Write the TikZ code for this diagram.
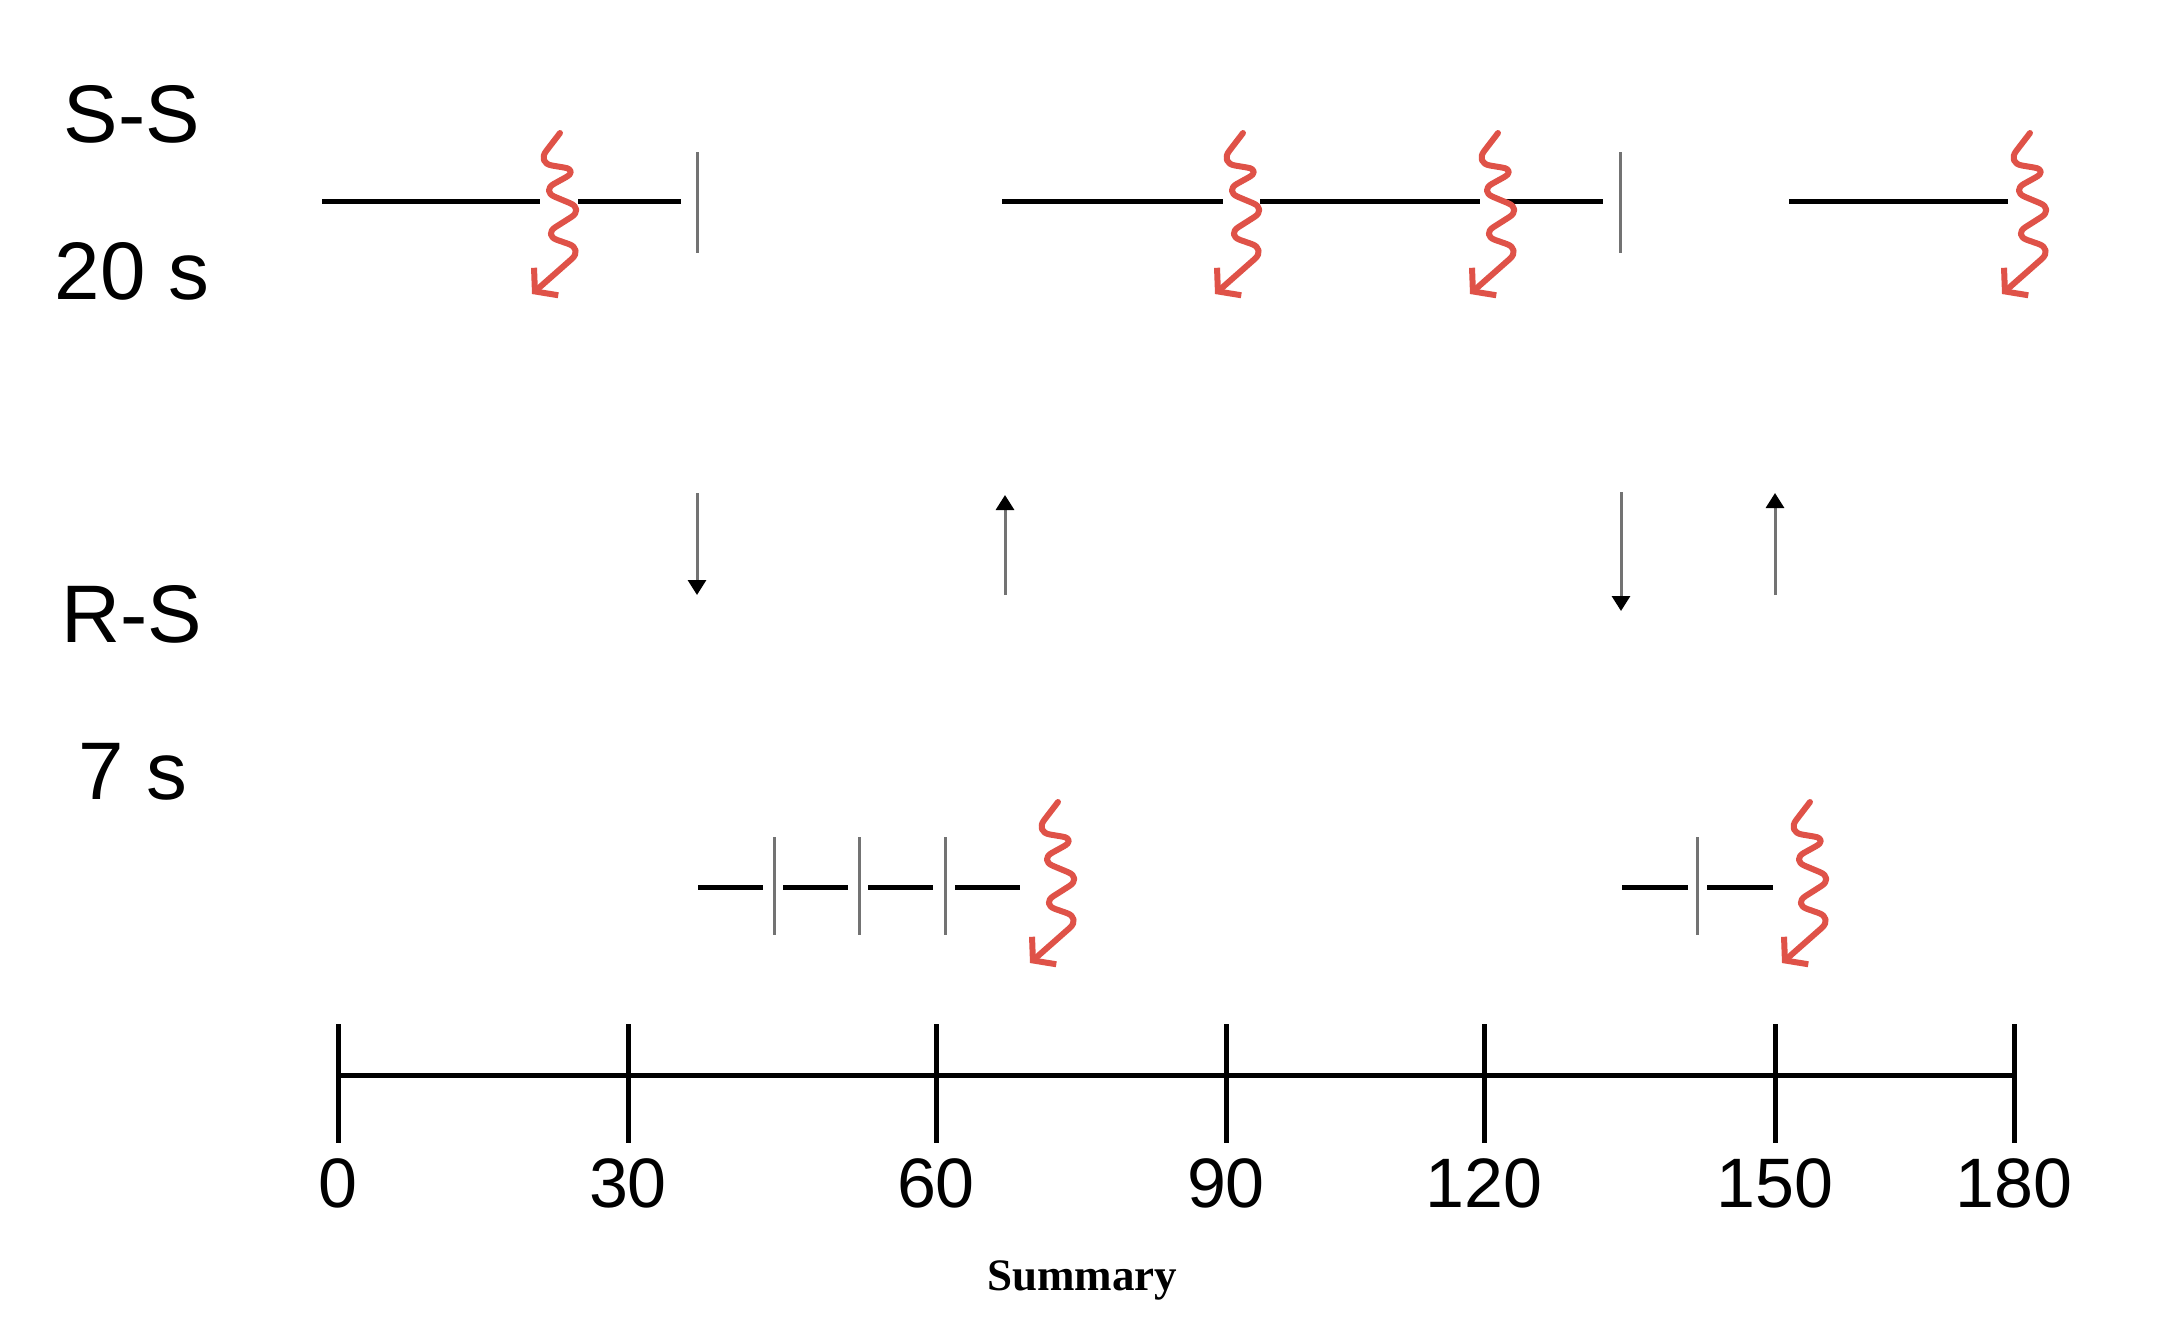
\documentclass[tikz,border=0pt]{standalone}
\usepackage{fontspec}
\setmainfont{Liberation Sans}
\newfontfamily\summaryfont{Liberation Serif}
\usetikzlibrary{arrows.meta}
\definecolor{zapred}{RGB}{223,82,72}
\definecolor{tickgray}{RGB}{115,115,115}
\begin{document}
\begin{tikzpicture}[x=0.3pt,y=-0.3pt,
  seg/.style={line width=1.5pt,black},
  sepline/.style={line width=0.9pt,tickgray},
  flow/.style={line width=0.9pt,tickgray,-{Triangle[length=4.5pt,width=5.4pt,color=black]}},
  zapline/.style={zapred,line width=1.8pt,rounded corners=4.5pt,line cap=round,line join=round,-{Straight Barb[length=4.5pt,width=11pt]}},
  axisline/.style={line width=1.5pt,black},
  rowlabel/.style={font=\fontsize{24.5}{28}\selectfont,anchor=base,inner sep=0pt},
  ticklabel/.style={font=\fontsize{21}{25}\selectfont,anchor=base,inner sep=0pt},
  pics/zap/.style={code={\draw[zapline] (0,0) -- (-23,30) -- (19,37) -- (-19,58) -- (24,76) -- (-17,102) -- (23,116) -- (-28,161);}}
]
\useasboundingbox (0,0) rectangle (2178,1335);

% row labels
\node[rowlabel] (ss) at (132,142) {S-S};
\node[rowlabel] (ss20) at (132,299) {20 s};
\node[rowlabel] (rs) at (132,642) {R-S};
\node[rowlabel] (rs7) at (133,799) {7 s};

% S-S segments
\foreach \n/\a/\b in {1/322/540, 2/578/681, 3/1002/1223, 4/1260/1480, 5/1502/1603, 6/1789/2008}{
  \coordinate (sa\n) at (\a,201);
  \coordinate (sb\n) at (\b,201);
  \draw[seg] (sa\n) -- (sb\n);
}
% S-S separators
\foreach \n/\x in {1/697, 2/1620}{
  \coordinate (st\n) at (\x,152);
  \coordinate (sbt\n) at (\x,253);
  \draw[sepline] (st\n) -- (sbt\n);
}

% R-S segments
\foreach \n/\a/\b in {1/698/763, 2/783/848, 3/868/933, 4/955/1020, 5/1622/1688, 6/1707/1773}{
  \coordinate (ra\n) at (\a,887);
  \coordinate (rb\n) at (\b,887);
  \draw[seg] (ra\n) -- (rb\n);
}
\foreach \n/\x in {1/774, 2/859, 3/945, 4/1697}{
  \coordinate (rt\n) at (\x,837);
  \coordinate (rbt\n) at (\x,935);
  \draw[sepline] (rt\n) -- (rbt\n);
}

% transfer arrows
\coordinate (d1a) at (697,493);  \coordinate (d1b) at (697,595);
\coordinate (u1a) at (1005,595); \coordinate (u1b) at (1005,495);
\coordinate (d2a) at (1621,492); \coordinate (d2b) at (1621,611);
\coordinate (u2a) at (1775,595); \coordinate (u2b) at (1775,493);
\draw[flow] (d1a) -- (d1b);
\draw[flow] (u1a) -- (u1b);
\draw[flow] (d2a) -- (d2b);
\draw[flow] (u2a) -- (u2b);

% zaps
\pic (z1) at (560,133) {zap};
\pic (z2) at (1243,133) {zap};
\pic (z3) at (1498,133) {zap};
\pic (z4) at (2030,133) {zap};
\pic (z5) at (1058,802) {zap};
\pic (z6) at (1810,802) {zap};

% time axis
\coordinate (ax0) at (338,1075);
\coordinate (ax1) at (2014,1075);
\draw[axisline] (ax0) -- (ax1);
\foreach \v/\x in {0/338, 30/628, 60/936, 90/1226, 120/1484, 150/1775, 180/2014}{
  \coordinate (tt\v) at (\x,1024);
  \coordinate (tb\v) at (\x,1143);
  \draw[axisline] (tt\v) -- (tb\v);
  \node[ticklabel] (tl\v) at (\x,1207) {\v};
}

\node[anchor=base,inner sep=0pt,font=\summaryfont\bfseries\fontsize{13.5}{16}\selectfont] (summary) at (1082,1290) {Summary};
\end{tikzpicture}
\end{document}
